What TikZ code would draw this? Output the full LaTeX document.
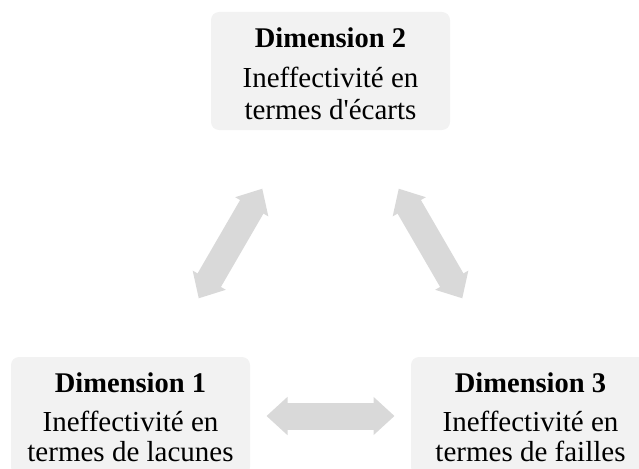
\documentclass[tikz,border=0pt]{standalone}
\usepackage{fontspec}
\setmainfont{Liberation Serif}
\usetikzlibrary{arrows.meta}
\definecolor{boxfill}{HTML}{F2F2F2}
\definecolor{arrowgray}{HTML}{D9D9D9}
\begin{document}
\begin{tikzpicture}[x=1pt,y=-1pt,
  dimbox/.style={rectangle, rounded corners=8pt, fill=boxfill, draw=none,
    minimum width=239pt, minimum height=118pt, inner sep=0pt},
  titletext/.style={anchor=base, inner sep=0pt, font=\fontsize{28.5}{28.5}\selectfont\bfseries},
  bodytext/.style={anchor=base, inner sep=0pt, font=\fontsize{29}{29}\selectfont},
  bigarrow/.style={draw=arrowgray, line width=27pt,
    {Triangle[width=37pt,length=21pt]}-{Triangle[width=37pt,length=21pt]},
    shorten <=136pt, shorten >=136pt}
]
\useasboundingbox (0,0) rectangle (639,468);
\clip (0,0) rectangle (639,468);
% boxes
\node[dimbox] (b1) at (130.5,416) {};
\node[dimbox] (b2) at (330.5,71) {};
\node[dimbox] (b3) at (530.5,416) {};
% texts box 2
\node[titletext] (t2a) at (330.5,48) {Dimension 2};
\node[bodytext] (t2b) at (330.5,88) {Ineffectivité en};
\node[bodytext] (t2c) at (330.5,119) {termes d\textquotesingle écarts};
% texts box 1
\node[titletext] (t1a) at (130.5,392) {Dimension 1};
\node[bodytext] (t1b) at (130.5,431) {Ineffectivité en};
\node[bodytext] (t1c) at (130.5,461) {termes de lacunes};
% texts box 3
\node[titletext] (t3a) at (530.5,392) {Dimension 3};
\node[bodytext] (t3b) at (530.5,431) {Ineffectivité en};
\node[bodytext] (t3c) at (530.5,461) {termes de failles};
% arrows
\draw[bigarrow] (b1.center) -- (b2.center);
\draw[bigarrow] (b2.center) -- (b3.center);
\draw[bigarrow] (b1.center) -- (b3.center);
\end{tikzpicture}
\end{document}
